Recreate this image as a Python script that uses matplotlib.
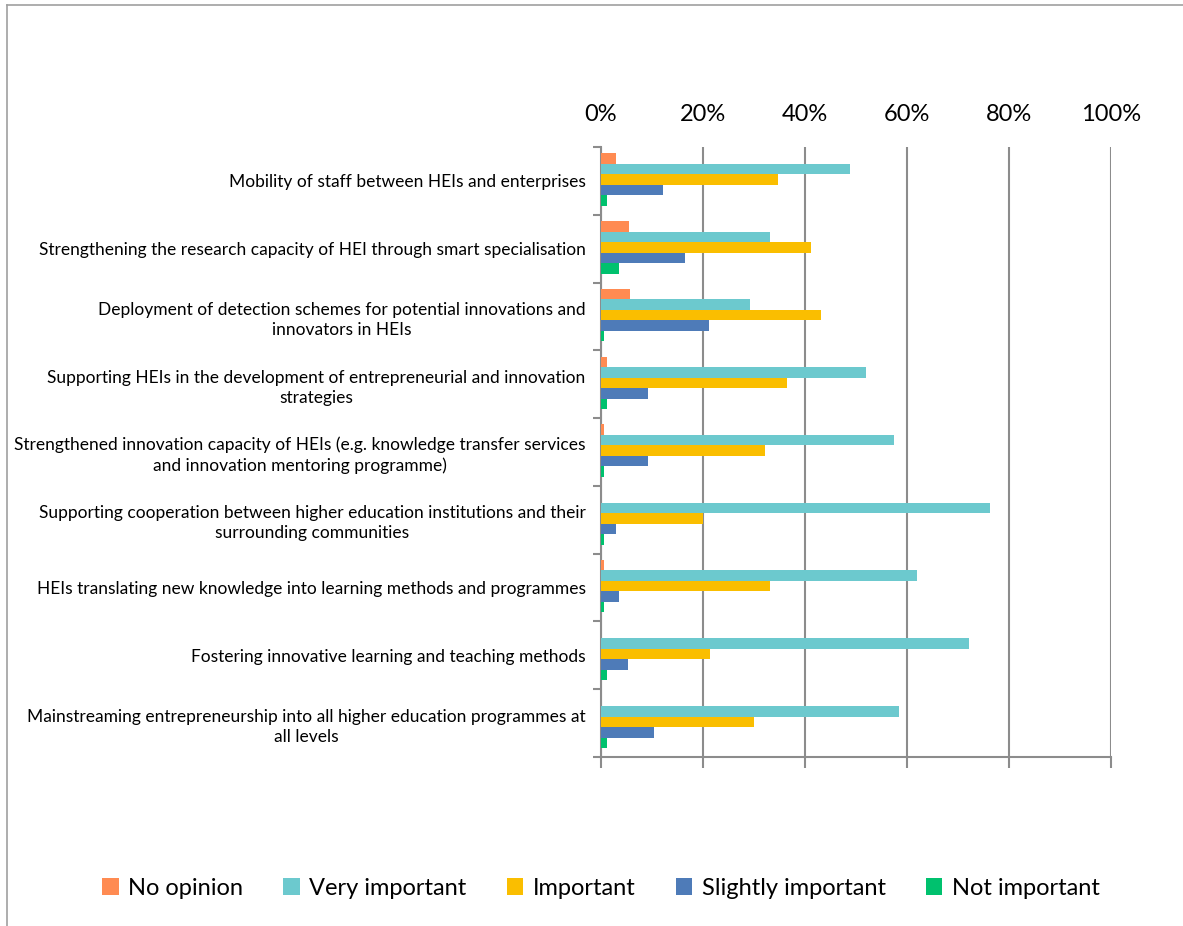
import matplotlib
matplotlib.use("Agg")
import matplotlib.pyplot as plt
from matplotlib.lines import Line2D
import numpy as np

plt.rcParams['font.family'] = ['Lato', 'DejaVu Sans']

categories = [
    "Mobility of staff between HEIs and enterprises",
    "Strengthening the research capacity of HEI through smart specialisation",
    "Deployment of detection schemes for potential innovations and\ninnovators in HEIs",
    "Supporting HEIs in the development of entrepreneurial and innovation\nstrategies",
    "Strengthened innovation capacity of HEIs (e.g. knowledge transfer services\nand innovation mentoring programme)",
    "Supporting cooperation between higher education institutions and their\nsurrounding communities",
    "HEIs translating new knowledge into learning methods and programmes",
    "Fostering innovative learning and teaching methods",
    "Mainstreaming entrepreneurship into all higher education programmes at\nall levels",
]

series_names = ["No opinion", "Very important", "Important", "Slightly important", "Not important"]
no_opinion = [2.9, 5.5, 5.6, 1.2, 0.5, 0.0, 0.5, 0.0, 0.0]
very_important = [48.8, 33.1, 29.3, 52.0, 57.5, 76.3, 62.0, 72.1, 58.4]
important = [34.8, 41.1, 43.2, 36.4, 32.1, 20.1, 33.1, 21.3, 30.1]
slightly_important = [12.2, 16.5, 21.2, 9.2, 9.2, 2.9, 3.6, 5.4, 10.4]
not_important = [1.1, 3.6, 0.5, 1.2, 0.5, 0.5, 0.5, 1.1, 1.2]
colors = ["#FF8B52", "#6CC9CE", "#FABE00", "#4E7BB8", "#00C16E"]

series = [no_opinion, very_important, important, slightly_important, not_important]

fig = plt.figure(figsize=(11.83, 9.26), dpi=100)
ax = fig.add_axes([0.508, 0.1825, 0.431, 0.6588])

y = np.arange(len(categories))
h = 0.155
for k, (vals, col, name) in enumerate(zip(series, colors, series_names)):
    off = (k - 2) * h - 0.02
    ax.barh(y + off, vals, height=h, color=col, label=name, zorder=3)

ax.set_xlim(0, 100)
ax.set_ylim(len(categories) - 0.5, -0.5)

# value axis: labels on top, gridlines
ax.set_xticks(np.arange(0, 101, 20))
ax.set_xticklabels([f"{v}%" for v in range(0, 101, 20)], fontsize=17)
ax.tick_params(axis='x', bottom=True, top=False, labelbottom=False, labeltop=True,
               direction='out', length=8, width=1.5, color='#8c8c8c', pad=8)
ax.grid(axis='x', color='#8c8c8c', linewidth=1.5, zorder=0)

# category axis: ticks at group boundaries, labels at centres
ax.set_yticks(np.arange(len(categories) + 1) - 0.5)
ax.set_yticklabels([])
ax.set_yticks(y, minor=True)
ax.set_yticklabels(categories, minor=True, fontsize=12.5, multialignment='center',
                   linespacing=1.3)
ax.tick_params(axis='y', which='major', direction='out', length=6, width=1.5, color='#8c8c8c')
ax.tick_params(axis='y', which='minor', length=0, pad=11)

for s in ['top', 'right']:
    ax.spines[s].set_visible(False)
for s in ['left', 'bottom']:
    ax.spines[s].set_color('#8c8c8c')
    ax.spines[s].set_linewidth(1.5)

ax.legend(loc='center', bbox_to_anchor=(0.508, 0.041), bbox_transform=fig.transFigure,
          ncol=5, frameon=False, fontsize=17, handlelength=0.7, handleheight=0.7,
          handletextpad=0.4, columnspacing=1.7)

# outer chart frame (top and left edges)
fig.add_artist(Line2D([0.006, 1.0], [0.995, 0.995], transform=fig.transFigure, color='#a0a0a0', lw=1.2))
fig.add_artist(Line2D([0.006, 0.006], [0.0, 0.995], transform=fig.transFigure, color='#a0a0a0', lw=1.2))

fig.savefig("out.png", dpi=100)
